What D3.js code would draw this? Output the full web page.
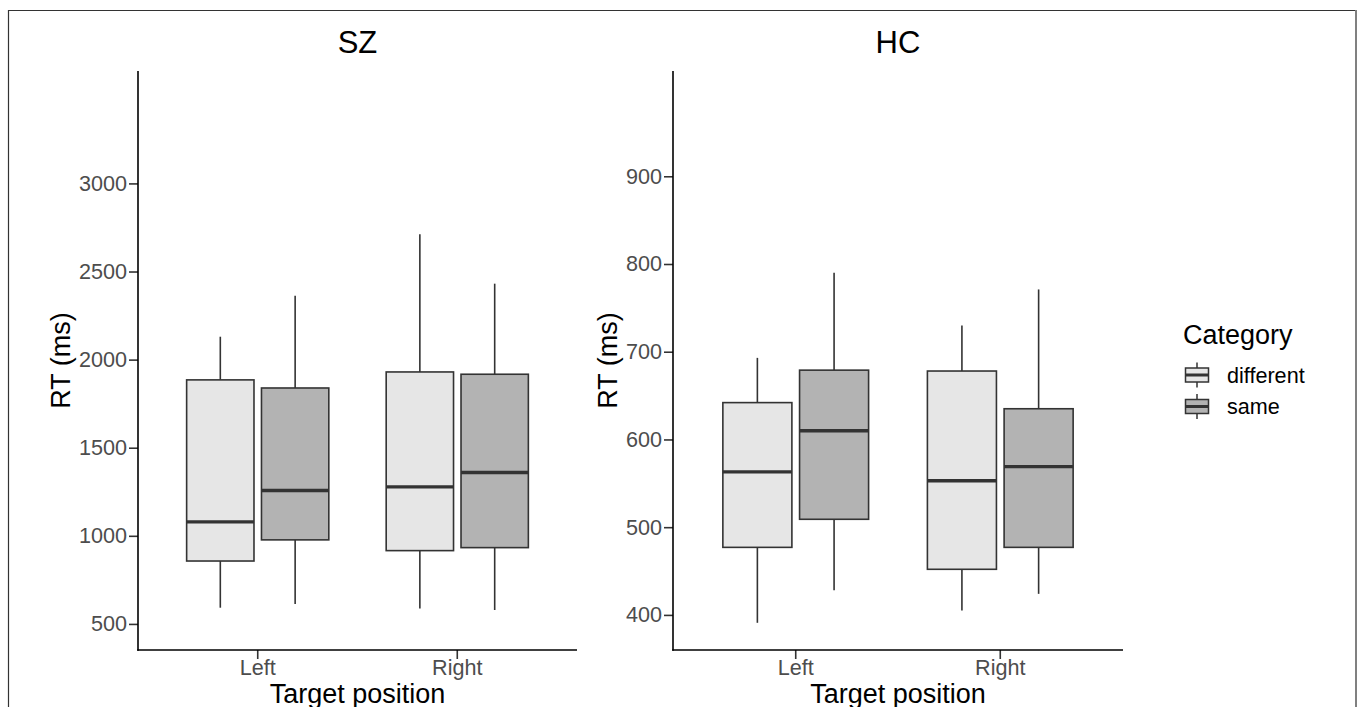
<!DOCTYPE html>
<html>
<head>
<meta charset="utf-8">
<script src="https://cdn.jsdelivr.net/npm/d3@7"></script>
<style>
  html, body { margin: 0; padding: 0; background: #fff; }
  svg { display: block; font-family: "Liberation Sans", Arial, sans-serif; }
</style>
</head>
<body>
<svg id="chart" width="1358" height="707"></svg>
<script>
// ---- data ----
const positions = ["Left", "Right"];
const categories = ["different", "same"];
// order of entries: Left-different, Left-same, Right-different, Right-same
const szLow  = [592, 613, 587, 579];
const szQ1   = [857, 977, 916, 933];
const szMed  = [1079, 1257, 1278, 1359];
const szQ3   = [1885, 1839, 1930, 1917];
const szHigh = [2130, 2363, 2712, 2431];

const hcLow  = [391, 428, 405, 424];
const hcQ1   = [477, 509, 452, 477];
const hcMed  = [563, 610, 553, 569];
const hcQ3   = [642, 679, 678, 635];
const hcHigh = [693, 790, 730, 771];

const szTicks = [500, 1000, 1500, 2000, 2500, 3000];
const hcTicks = [400, 500, 600, 700, 800, 900];
const szDomain = [352, 3638];
const hcDomain = [360, 1020];

const fills = { different: "#E6E6E6", same: "#B3B3B3" };

function rows(low, q1, med, q3, high) {
  const out = [];
  let i = 0;
  positions.forEach(p => categories.forEach(c => {
    out.push({ pos: p, cat: c, low: low[i], q1: q1[i], med: med[i], q3: q3[i], high: high[i] });
    i++;
  }));
  return out;
}

const panels = [
  { title: "SZ", data: rows(szLow, szQ1, szMed, szQ3, szHigh), ticks: szTicks, domain: szDomain,
    x0: 138, x1: 577, ytitleX: 70 },
  { title: "HC", data: rows(hcLow, hcQ1, hcMed, hcQ3, hcHigh), ticks: hcTicks, domain: hcDomain,
    x0: 673, x1: 1123, ytitleX: 616.5 }
];
const yTop = 71, yBot = 650;

const svg = d3.select("#chart");

// outer frame
svg.append("line").attr("x1", 8).attr("x2", 1357).attr("y1", 10.5).attr("y2", 10.5)
  .attr("stroke", "#333").attr("stroke-width", 1.2);
svg.append("line").attr("x1", 8.5).attr("x2", 8.5).attr("y1", 10).attr("y2", 707)
  .attr("stroke", "#333").attr("stroke-width", 1.2);
svg.append("line").attr("x1", 1356).attr("x2", 1356).attr("y1", 10).attr("y2", 707)
  .attr("stroke", "#808080").attr("stroke-width", 2);

panels.forEach(pn => {
  const g = svg.append("g");
  const x = d3.scaleBand().domain(positions).range([pn.x0, pn.x1]).paddingInner(0).paddingOuter(0.1);
  const step = x.step();
  const sub = d3.scaleBand().domain(categories).range([-0.375 * step, 0.375 * step]);
  const bw = sub.bandwidth() * 0.9;
  const y = d3.scaleLinear().domain(pn.domain).range([yBot, yTop]);

  // boxes
  const bx = g.selectAll("g.box").data(pn.data).enter().append("g").attr("class", "box")
    .attr("transform", d => `translate(${x(d.pos) + step / 2 + sub(d.cat) + sub.bandwidth() / 2},0)`);
  bx.append("line").attr("x1", 0).attr("x2", 0).attr("y1", d => y(d.q3)).attr("y2", d => y(d.high))
    .attr("stroke", "#333").attr("stroke-width", 1.6);
  bx.append("line").attr("x1", 0).attr("x2", 0).attr("y1", d => y(d.q1)).attr("y2", d => y(d.low))
    .attr("stroke", "#333").attr("stroke-width", 1.6);
  bx.append("rect").attr("x", -bw / 2).attr("width", bw)
    .attr("y", d => y(d.q3)).attr("height", d => y(d.q1) - y(d.q3))
    .attr("fill", d => fills[d.cat]).attr("stroke", "#333").attr("stroke-width", 1.6);
  bx.append("line").attr("x1", -bw / 2).attr("x2", bw / 2).attr("y1", d => y(d.med)).attr("y2", d => y(d.med))
    .attr("stroke", "#333").attr("stroke-width", 3.4);

  // axes
  const ya = g.append("g").attr("transform", `translate(${pn.x0},0)`)
    .call(d3.axisLeft(y).tickValues(pn.ticks).tickFormat(d3.format("d")).tickSize(9).tickPadding(2).tickSizeOuter(0));
  ya.select(".domain").remove();
  ya.append("line").attr("x1", 0).attr("x2", 0).attr("y1", yTop).attr("y2", yBot + 0.75)
    .attr("stroke", "#000").attr("stroke-width", 1.6);
  ya.selectAll(".tick line").attr("stroke", "#333").attr("stroke-width", 1.6);
  ya.selectAll(".tick text").attr("fill", "#4D4D4D").style("font-size", "21.6px")
    .style("font-family", "'Liberation Sans', Arial, sans-serif");

  const xa = g.append("g").attr("transform", `translate(0,${yBot})`)
    .call(d3.axisBottom(x).tickSize(9).tickPadding(1).tickSizeOuter(0));
  xa.select(".domain").remove();
  xa.append("line").attr("x1", pn.x0 - 0.8).attr("x2", pn.x1).attr("y1", 0).attr("y2", 0)
    .attr("stroke", "#000").attr("stroke-width", 1.6);
  xa.selectAll(".tick line").attr("stroke", "#333").attr("stroke-width", 1.6);
  xa.selectAll(".tick text").attr("fill", "#4D4D4D").style("font-size", "21.6px")
    .style("font-family", "'Liberation Sans', Arial, sans-serif");

  const cx = (pn.x0 + pn.x1) / 2;
  g.append("text").attr("x", cx).attr("y", 53).attr("text-anchor", "middle")
    .style("font-size", "31px").attr("fill", "#000").text(pn.title);
  g.append("text").attr("x", cx).attr("y", 703).attr("text-anchor", "middle")
    .style("font-size", "27px").attr("fill", "#000").text("Target position");
  g.append("text").attr("transform", `translate(${pn.ytitleX},${(yTop + yBot) / 2}) rotate(-90)`)
    .attr("text-anchor", "middle").style("font-size", "27px").attr("fill", "#000").text("RT (ms)");
});

// legend
const lg = svg.append("g");
lg.append("text").attr("x", 1183).attr("y", 344).style("font-size", "27px").attr("fill", "#000").text("Category");
const keys = lg.selectAll("g.key").data(categories).enter().append("g").attr("class", "key")
  .attr("transform", (d, i) => `translate(1197,${375 + i * 31.5})`);
keys.append("line").attr("x1", 0).attr("x2", 0).attr("y1", -12.5).attr("y2", 12.5)
  .attr("stroke", "#333").attr("stroke-width", 1.5);
keys.append("rect").attr("x", -11.5).attr("y", -7).attr("width", 23).attr("height", 14)
  .attr("fill", d => fills[d]).attr("stroke", "#333").attr("stroke-width", 1.5);
keys.append("line").attr("x1", -11.5).attr("x2", 11.5).attr("y1", 0).attr("y2", 0)
  .attr("stroke", "#333").attr("stroke-width", 3);
keys.append("text").attr("x", 30).attr("y", 0).attr("dy", "0.35em").style("font-size", "21.6px")
  .attr("fill", "#000").text(d => d);
</script>
</body>
</html>
